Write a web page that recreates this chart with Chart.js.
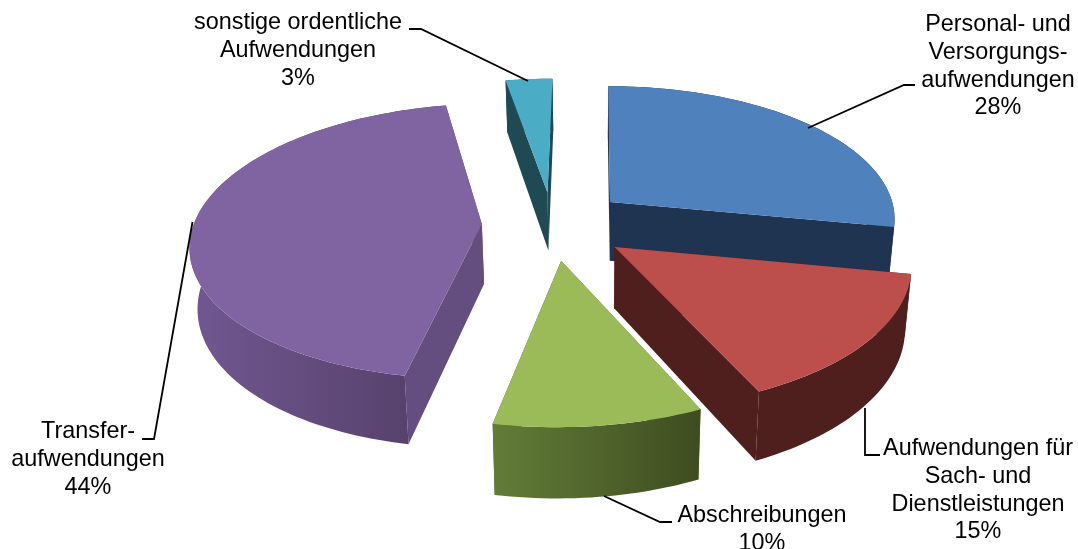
<!DOCTYPE html>
<html><head><meta charset="utf-8">
<script src="https://cdn.jsdelivr.net/npm/chart.js@4"></script>
<style>html,body{margin:0;padding:0;background:#fff;overflow:hidden}canvas{display:block}</style>
</head><body><canvas id="c" width="1078" height="549"></canvas>
<script>
const categories = ["Personal- und Versorgungsaufwendungen","Aufwendungen für Sach- und Dienstleistungen","Abschreibungen","Transferaufwendungen","sonstige ordentliche Aufwendungen"];
const values = [28,15,10,44,3];
const labelLines = [["Personal- und","Versorgungs-","aufwendungen"],["Aufwendungen für","Sach- und","Dienstleistungen"],["Abschreibungen"],["Transfer-","aufwendungen"],["sonstige ordentliche","Aufwendungen"]];
const topColors = ["#4f81bd","#bc4f4c","#9bbb59","#8064a2","#4bacc6"];
const wallColors = ["#1f3450","#4f1f1e","#506631","#644e80","#1f4a54"];
const rimLeft  = ["#1f3450","#4f1f1e","#627c38","#705790","#1f4a54"];
const rimRight = ["#1f3450","#4f1f1e","#3e4d20","#523e66","#1f4a54"];
const explosion = [0.26,0.27,0.265,0.246,0.24];
const labelCentre = [998,978,762,88,298];
const labelBaseline = [31,455,522,438,29];
const leaders = [[[808,128],[904,85],[915,85]],[[865,408],[865,455],[880,455]],[[604,496],[660,522],[672,522]],[[192.5,222],[154,439],[142,439]],[[528,81],[421,29],[409,29]]];
const paintOrder = [0,4,3,1,2];
const cam = {vx:593,vy:-860,cy:224,a:288,g:0.125,shiftU:-0.14,depth:60,shrink:0.98};
const RADIUS = 200;

function project(u,v,low){
  const w = 1/(1-cam.g*v), s = low?cam.shrink:1;
  return [cam.vx+cam.a*s*(u+cam.shiftU)*w, cam.vy+(cam.cy-cam.vy)*w+(low?cam.depth*w:0)];
}
function rimPoints(arc,low){
  const off = arc.options.offset/arc.outerRadius, mid=(arc.startAngle+arc.endAngle)/2;
  const ou=off*Math.cos(mid), ov=off*Math.sin(mid), n=Math.max(6,Math.ceil((arc.endAngle-arc.startAngle)*40)), pts=[];
  for(let i=0;i<=n;i++){const t=arc.startAngle+(arc.endAngle-arc.startAngle)*i/n; pts.push(project(ou+Math.cos(t),ov+Math.sin(t),low));}
  return {pts,apex:project(ou,ov,low)};
}
function fillPoly(ctx,pts,style){ctx.beginPath();pts.forEach((p,i)=>i?ctx.lineTo(p[0],p[1]):ctx.moveTo(p[0],p[1]));ctx.closePath();ctx.fillStyle=style;ctx.fill();}

const pie3d = {id:'pie3d',
  beforeDatasetsDraw(chart){
    const ctx=chart.ctx, arcs=chart.getDatasetMeta(0).data;
    ctx.save();
    paintOrder.forEach(i=>{
      const arc=arcs[i], top=rimPoints(arc,false), low=rimPoints(arc,true), last=top.pts.length-1;
      fillPoly(ctx,[top.apex,top.pts[0],low.pts[0],low.apex],wallColors[i]);
      fillPoly(ctx,[top.apex,top.pts[last],low.pts[last],low.apex],wallColors[i]);
      const xs=low.pts.map(p=>p[0]), g=ctx.createLinearGradient(Math.min(...xs),0,Math.max(...xs),0);
      g.addColorStop(0,rimLeft[i]); g.addColorStop(1,rimRight[i]);
      fillPoly(ctx,top.pts.concat(low.pts.slice().reverse()),g);
      fillPoly(ctx,[top.apex].concat(top.pts),topColors[i]);
    });
    ctx.restore();
    return false;
  },
  afterDraw(chart){
    const ctx=chart.ctx, total=values.reduce((a,b)=>a+b,0);
    ctx.save();
    ctx.strokeStyle="#000"; ctx.lineWidth=1.8;
    leaders.forEach(l=>{ctx.beginPath();l.forEach((p,i)=>i?ctx.lineTo(p[0],p[1]):ctx.moveTo(p[0],p[1]));ctx.stroke();});
    ctx.fillStyle="#000"; ctx.font='23.4px "Liberation Sans", Arial, sans-serif'; ctx.textAlign="center"; ctx.textBaseline="alphabetic";
    values.forEach((val,i)=>{
      const lines=labelLines[i].concat(Math.round(val/total*100)+"%");
      lines.forEach((t,k)=>ctx.fillText(t,labelCentre[i],labelBaseline[i]+k*27.8));
    });
    ctx.restore();
  }
};
new Chart(document.getElementById('c'),{
  type:'pie',
  data:{labels:categories,datasets:[{data:values,backgroundColor:topColors,borderWidth:0,offset:c=>explosion[c.dataIndex]*RADIUS}]},
  options:{responsive:false,animation:false,events:[],radius:RADIUS,rotation:0,plugins:{legend:{display:false},tooltip:{enabled:false}}},
  plugins:[pie3d]
});
</script></body></html>
